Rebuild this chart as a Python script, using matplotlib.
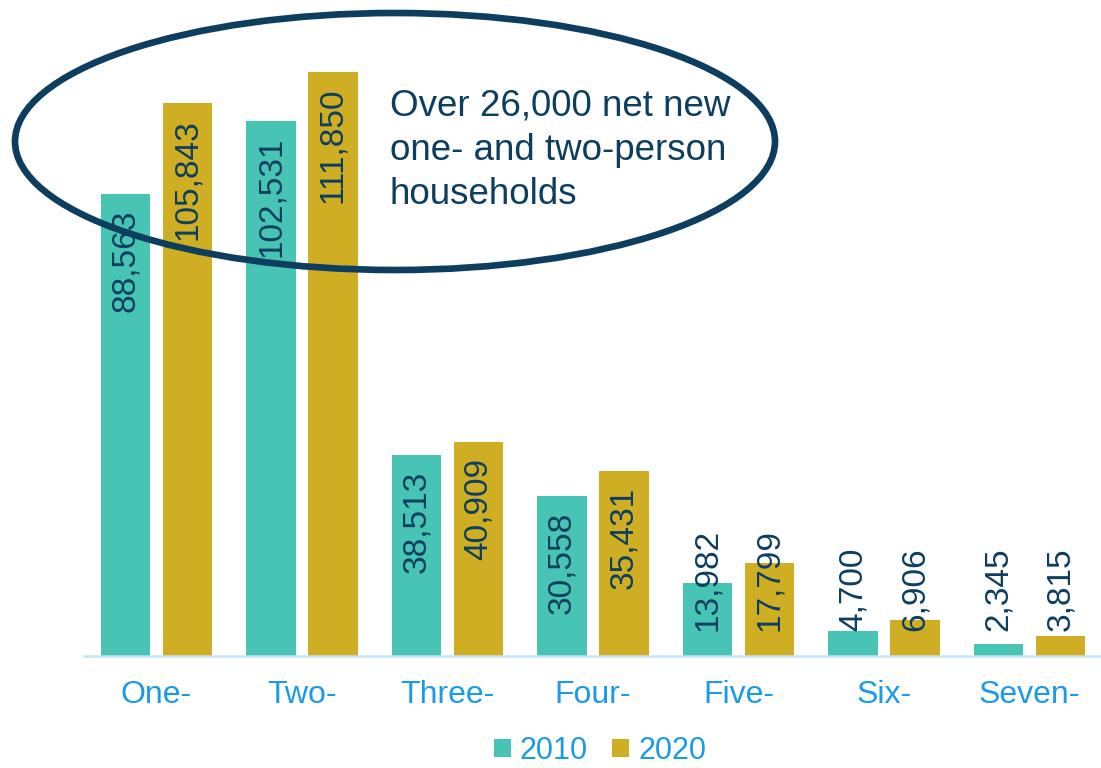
import matplotlib
matplotlib.use("Agg")
import matplotlib.pyplot as plt
import numpy as np
from matplotlib.patches import Ellipse

plt.rcParams["font.family"] = ["Liberation Sans", "DejaVu Sans"]

# Households by size, 2010 vs 2020
sizes = ["One-", "Two-", "Three-", "Four-", "Five-", "Six-", "Seven-"]
hh_2010 = [88563, 102531, 38513, 30558, 13982, 4700, 2345]
hh_2020 = [105843, 111850, 40909, 35431, 17799, 6906, 3815]
years = ["2010", "2020"]

C_2010 = "#48C4B4"
C_2020 = "#CFAE23"
NAVY = "#0D3E5F"
TICK_BLUE = "#1B9AEA"
AXIS_BLUE = "#C5E4F7"

W, H = 1101, 768
fig = plt.figure(figsize=(W / 100, H / 100), dpi=100)
ax = fig.add_axes([83.75 / W, 112 / H, 1018.5 / W, 616 / H])

x = np.arange(len(sizes))
bw = 0.337
off = 0.213
b1 = ax.bar(x - off, hh_2010, bw, color=C_2010, label=years[0], zorder=2)
b2 = ax.bar(x + off, hh_2020, bw, color=C_2020, label=years[1], zorder=2)

ax.set_xlim(-0.5, len(sizes) - 0.5)
ax.set_ylim(0, 117978)
ax.set_xticks(x)
ax.set_xticklabels(sizes, fontsize=23, color=TICK_BLUE)
ax.tick_params(axis="x", length=0, pad=17)
ax.set_yticks([])
for side in ("left", "right", "top"):
    ax.spines[side].set_visible(False)
ax.spines["bottom"].set_color(AXIS_BLUE)
ax.spines["bottom"].set_linewidth(1.8)

# Value labels: inside the top of the bar, pushed up off the axis when the bar is short
pad = 3000
floor = 4800
labels = []
for bars, vals in ((b1, hh_2010), (b2, hh_2020)):
    for rect, v in zip(bars, vals):
        cx = rect.get_x() + rect.get_width() / 2
        t = ax.text(cx, v - pad, f"{v:,}", rotation=90, ha="center", va="top",
                    fontsize=24, color=NAVY, zorder=3)
        labels.append(t)

fig.canvas.draw()
r = fig.canvas.get_renderer()
y_floor_px = ax.transData.transform((0, floor))[1]
for t in labels:
    if t.get_window_extent(r).y0 < y_floor_px:
        t.set_y(floor)
        t.set_va("bottom")

fig.text(390 / W, 1 - 88 / H, "Over 26,000 net new\none- and two-person\nhouseholds",
         ha="left", va="top", fontsize=26.5, color=NAVY, linespacing=1.36)

ring = Ellipse((395 / W, 1 - 141.5 / H), 760 / W, 257 / H, transform=fig.transFigure,
               fill=False, edgecolor=NAVY, lw=4.8, zorder=10)
fig.add_artist(ring)

fig.legend(loc="center", bbox_to_anchor=(600 / W, 1 - 751 / H), ncol=2, frameon=False,
           fontsize=22, handlelength=0.55, handleheight=0.55, handletextpad=0.3,
           columnspacing=0.8, labelcolor=TICK_BLUE)

fig.savefig("out.png", dpi=100, facecolor="white")
